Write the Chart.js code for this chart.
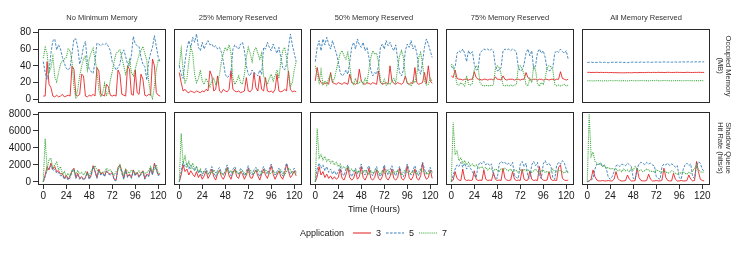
<!DOCTYPE html>
<html>
<head>
<meta charset="utf-8">
<script src="https://cdn.jsdelivr.net/npm/chart.js@4.4.1/dist/chart.umd.min.js"></script>
<style>
  html, body { margin: 0; padding: 0; background: #fff; }
  body { width: 747px; height: 257px; position: relative; overflow: hidden;
         font-family: "Liberation Sans", Arial, sans-serif; color: #1a1a1a; }
  canvas { position: absolute; }
  .strip { position: absolute; top: 13px; width: 128px; height: 10px; line-height: 10px;
           text-align: center; font-size: 7.5px; color: #333; white-space: nowrap; }
  .side { position: absolute; writing-mode: vertical-rl; font-size: 7.5px; line-height: 8px;
          color: #333; text-align: center; white-space: nowrap; transform: translate(-50%, -50%); }
  .lbl { position: absolute; font-size: 9px; line-height: 12px; white-space: nowrap; }
</style>
</head>
<body>
<script>
/* ── data ── */
const HOURS = [0,2,4,6,8,10,12,14,16,18,20,22,24,26,28,30,32,34,36,38,40,42,44,46,48,50,52,54,56,58,
  60,62,64,66,68,70,72,74,76,78,80,82,84,86,88,90,92,94,96,98,100,102,104,106,108,110,112,114,116,118,120,122];

const PANEL_TITLES = ['No Minimum Memory', '25% Memory Reserved', '50% Memory Reserved',
                      '75% Memory Reserved', 'All Memory Reserved'];
const APPS = ['3', '5', '7'];
const X_TICKS = [0, 24, 48, 72, 96, 120];
const MEM_TICKS = [0, 20, 40, 60, 80];
const HIT_TICKS = [0, 2000, 4000, 6000, 8000];

// Occupied memory (MB)
const MEM_NONE_3 = [4,4,45,18,14,4,3,5,3,4, 6,3,4,5,4,40,36,5,4,6, 30,28,4,3,5,4,6,4,38,34,
  6,5,4,18,15,5,4,5,4,35, 30,6,5,4,40,36,6,5,35,8, 6,30,24,5,4,6,5,48,40,8, 5,4];
const MEM_NONE_5 = [45,32,24,33,55,70,72,59,65,60, 50,43,37,35,38,55,72,72,62,42, 50,63,69,45,36,33,31,45,67,66,
  64,66,65,67,63,58,45,40,35,38, 42,55,59,51,42,40,53,75,66,64, 63,50,42,39,23,45,55,62,76,63, 50,45];
const MEM_NONE_7 = [49,62,55,32,38,51,27,21,32,42, 46,48,50,60,58,45,15,1,12,28, 39,48,52,35,48,56,61,48,35,11,
  3,8,19,5,8,23,33,45,55,57, 59,50,40,30,38,47,32,28,36,45, 53,58,63,55,47,22,6,1,16,35, 47,45];

const MEM_R25_3 = [32,20,10,12,9,8,10,9,8,10, 9,8,10,9,12,10,34,28,10,12, 28,10,8,12,10,9,12,34,12,10,
  9,10,8,9,10,26,10,9,12,32, 14,10,28,12,10,26,10,9,10,8, 12,30,10,9,10,12,10,34,12,9, 10,9];
const MEM_R25_5 = [40,30,25,45,60,70,62,74,68,78, 62,58,68,60,66,70,65,66,62,64, 60,62,56,45,30,26,28,32,60,65,
  62,60,66,68,58,40,30,28,35,32, 30,28,35,30,62,60,68,62,58,66, 60,55,62,50,38,35,42,62,78,65, 55,45];
const MEM_R25_7 = [40,60,35,20,25,45,62,55,30,20, 25,35,22,18,25,20,15,22,25,18, 20,30,45,55,62,58,65,55,25,18,
  22,28,20,18,30,50,62,55,45,58, 62,55,48,55,28,22,18,25,30,22, 28,35,25,45,58,62,50,30,15,20, 35,45];

const MEM_R50_3 = [22,38,25,20,18,19,20,18,32,20, 19,18,20,19,18,20,19,18,30,20, 19,18,20,36,22,19,18,20,19,18,
  20,19,18,34,20,18,19,20,18,40, 22,19,18,20,19,18,20,28,19,18, 20,19,38,20,18,19,20,32,19,40, 22,19];
const MEM_R50_5 = [45,62,70,58,72,65,74,66,60,70, 62,55,45,32,28,30,35,30,45,62, 68,60,72,65,62,68,58,62,50,35,
  28,32,30,40,62,66,60,70,64,68, 62,58,65,48,32,28,35,58,66,62, 70,60,64,55,35,30,45,62,72,66, 58,50];
const MEM_R50_7 = [40,30,20,35,18,22,17,25,30,20, 25,35,45,55,58,52,48,56,40,22, 18,25,18,20,22,18,25,20,35,50,
  58,54,55,45,22,18,24,17,20,18, 22,25,20,38,52,58,50,28,20,18, 16,22,20,30,50,56,42,22,17,18, 25,22];

const MEM_R75_3 = [28,26,35,25,24,24,23,24,24,23, 24,24,33,26,24,24,23,24,24,23, 24,24,23,27,24,24,23,28,24,23,
  24,24,24,23,24,24,23,24,24,32, 26,24,23,24,24,23,24,24,23,24, 24,23,24,24,23,24,24,33,25,24, 23,24];
const MEM_R75_5 = [40,36,38,55,58,56,60,55,45,58, 54,57,42,35,36,55,58,60,59,60, 58,60,57,40,34,35,38,58,60,59,
  60,58,60,59,56,38,34,35,42,55, 60,52,58,36,40,56,60,55,58,50, 36,34,35,38,55,58,56,60,57,55, 58,48];
const MEM_R75_7 = [42,40,30,18,17,20,18,16,28,18, 17,19,35,40,38,20,17,16,17,16, 17,16,18,36,40,38,30,17,16,17,
  16,17,16,17,18,38,40,36,30,18, 16,25,20,40,35,18,16,20,18,25, 38,40,39,35,18,16,17,16,17,18, 16,17];

const MEM_ALL_3 = [32.2,32.3,32,32.2,32.1,32.3,32,32.2,32.1,32, 32.2,31.9,32.1,32,31.8,31.9,31.7,31.8,31.6,31.8,
  31.7,31.9,31.8,31.7,31.9,32,31.8,32,32.1,31.9, 32,32.1,32.2,32,32.1,32.2,32,32.3,32.1,32.2,
  32,32.1,32.3,32.2,32,32.1,32.2,32.3,32.1,32.2, 32,32.1,32.3,32.2,32.1,32,32.2,32.1,32.3,32.2, 32.1,32.2];
const MEM_ALL_5 = [44,44.2,44.5,44,44.1,44,44.6,44.2,44,44.3, 44,43.7,44,44.2,44.4,44.1,44.6,44.2,44.3,44,
  44.1,43.8,44.2,44.3,44.5,44.2,44.4,44.1,44.6,44.3, 44.2,44.4,44.5,44,44.3,44.5,44.4,44.6,44.3,44.5,
  44.7,44.4,44.5,44.6,44.3,44.5,44.7,44.2,44.5,44.6, 44.8,44.5,44.6,44.9,44.5,44.7,44.6,44.8,44.5,44.9, 44.7,44.8];
const MEM_ALL_7 = [22.3,22.1,22.2,22,22.3,22.1,22.4,22.2,22,22.3, 22.1,22.2,22.4,22.3,22.1,22.5,22.2,22.3,22.1,22.4,
  22.2,22,22.3,22.6,22.2,22.4,22.1,22.3,22.5,22.2, 22.3,22.4,22.1,22.2,22.6,22.3,22.8,22.4,22.2,22.3,
  22.5,22.2,22.4,22.3,22.1,22.2,22.4,22.3,22.6,22.2, 22.3,22.1,22.5,22.2,22.4,22.3,22.2,22.4,22.3,22.5, 22.2,22.3];

// Shadow queue hit rate (hits/s)
const HIT_NONE_3 = [0,800,1800,1400,2200,1500,1800,1200,1300,900, 1000,400,800,300,700,1300,1600,500,1000,400,
  600,300,500,1200,400,800,1900,1300,500,1500, 900,1100,700,1300,1000,900,1100,300,200,1700,
  2000,1200,400,1500,600,900,500,1400,800,1100, 600,1000,1300,400,900,700,1600,900,2200,1500, 800,1000];
const HIT_NONE_5 = [0,600,1400,1600,1900,1300,1500,1000,1100,700, 800,300,600,200,500,1100,1500,400,800,300,
  500,200,400,1100,300,700,1800,1200,400,1300, 800,1000,600,1200,900,800,1000,200,100,1500,
  1800,1000,300,1300,500,800,400,1300,700,1000, 500,900,1200,300,800,600,1500,800,2000,1400, 700,900];
const HIT_NONE_7 = [0,5100,1500,2600,2800,1600,2000,2300,1400,1800, 900,1200,700,1000,600,1400,1200,900,1300,1000,
  1100,800,1200,900,700,1300,1500,1900,1400,1200, 1000,1200,1100,1600,1300,1400,1100,800,1200,1400,
  2000,1300,800,1500,1200,1000,1400,1200,1000,1100, 1300,900,1200,1000,1100,1300,1800,1200,1500,2000, 1000,900];

const HIT_R25_3 = [0,800,2000,1200,1500,800,1300,900,600,1200, 500,900,300,700,1300,400,800,1500,600,200,
  900,1400,600,300,800,1700,700,300,1100,1500, 600,400,1200,900,300,800,1600,500,400,1000,
  1400,700,200,900,1500,800,400,1100,1900,900, 300,800,1300,600,300,1000,2100,1200,500,800, 1300,700];
const HIT_R25_5 = [0,1200,2400,1800,2200,1500,2000,1600,1300,1800, 1000,1400,700,1200,1600,900,1200,1800,1000,600,
  1400,1700,1100,800,1300,2000,1200,700,1500,1800, 1100,900,1600,1300,700,1200,1900,1000,800,1400,
  1700,1100,600,1300,1800,1200,900,1500,2100,1300, 800,1200,1600,1000,700,1400,2200,1500,900,1200, 1600,1100];
const HIT_R25_7 = [0,5700,2200,3000,1800,2400,1500,2200,1400,1800, 1200,1500,1000,1300,1100,900,1200,1000,1400,1100,
  900,1300,1000,800,1200,1500,1100,1300,1000,1400, 1200,900,1100,1300,1000,800,1200,1400,1100,900,
  1300,1500,1200,1000,1100,1400,1200,900,1000,1300, 1100,900,1200,1400,1000,800,1200,1600,1400,1000, 1100,900];

const HIT_R50_3 = [0,600,1800,800,1200,500,900,400,700,300, 600,300,500,1500,400,200,800,1700,500,200,
  400,1200,300,600,1800,500,200,700,1600,400, 200,500,1400,400,200,600,1700,500,200,600,
  1500,400,200,500,1600,400,200,600,1900,500, 200,600,1500,400,200,700,2200,800,300,500, 1400,400];
const HIT_R50_5 = [0,1500,2200,1600,2000,1300,1800,1100,1500,900, 1300,800,1200,1800,1000,700,1500,2000,1200,600,
  1100,1600,900,1400,2100,1200,800,1500,1900,1100, 700,1300,1800,1000,600,1200,2000,1300,800,1400,
  1900,1100,700,1300,1800,1000,600,1200,2100,1300, 800,1400,1900,1100,700,1300,2300,1500,900,1200, 1700,1100];
const HIT_R50_7 = [0,6300,2800,3200,2600,3000,2400,2700,2200,2500, 2000,2300,1800,2100,1600,1800,1500,1700,1300,1500,
  1200,1400,1100,1300,1000,1200,1400,1100,900,1300, 1000,1200,1500,1100,900,1300,1000,1200,1400,1000,
  900,1200,1100,1300,1000,800,1200,1400,1100,900, 1000,1300,1100,900,1200,1500,1300,1000,1100,900, 1200,1000];

const HIT_R75_3 = [0,200,1200,400,200,150,1500,300,150,200, 150,200,1300,300,150,200,150,1400,300,150,
  200,150,1100,300,150,200,150,1600,400,200, 150,200,1200,300,150,200,150,1500,300,150,
  200,1300,300,150,200,150,1800,400,200,150, 200,1200,300,150,200,150,1700,2000,400,200, 150,200];
const HIT_R75_5 = [0,800,1500,2000,1800,2300,1700,2200,1500,1900, 1600,1200,700,500,1900,2300,2100,2400,2000,2200,
  1900,2100,800,500,400,2100,2400,2200,2300,2000, 2200,1900,2300,700,500,400,2100,2400,1800,2200,
  600,400,2000,2400,1900,2300,600,400,2100,2500, 2000,2200,1800,500,300,1900,2300,2100,2500,2200, 1500,1000];
const HIT_R75_7 = [0,7000,3200,3600,2500,2800,2200,2500,2000,2300, 1900,2100,1800,2000,1700,1600,1800,1500,1700,1400,
  1600,1500,1300,1500,1400,1200,1500,1300,1600,1400, 1300,1500,1200,1400,1300,1100,1400,1200,1500,1300,
  1400,1200,1100,1300,1500,1200,1000,1300,1400,1100, 1200,1000,1300,1500,1200,1100,1400,1300,1200,1000, 1300,1100];

const HIT_ALL_3 = [0,100,300,1400,600,200,100,100,150,100, 100,150,100,100,300,1200,400,150,100,100,
  150,800,300,100,100,150,1600,500,150,100, 100,150,900,300,100,100,150,100,100,200,
  1600,500,150,100,100,1000,300,100,100,150, 100,100,150,800,300,100,150,2400,1200,300, 150,100];
const HIT_ALL_5 = [0,100,200,400,1500,2100,2000,2300,1800,2000, 1500,500,300,600,1200,1900,2000,1800,2100,2000,
  1900,2200,2000,1800,400,300,1500,2100,2300,2200, 2000,2300,2100,2200,2000,1900,600,400,300,1800,
  2100,2000,2200,1900,2100,2000,1700,1900,500,300, 1400,2000,2200,1900,2100,600,400,1800,2400,2200, 1500,1200];
const HIT_ALL_7 = [0,8000,3000,3500,2400,2200,2000,2100,1800,1900, 1600,1700,1500,1600,1400,1500,1300,1400,1200,1500,
  1300,1400,1200,1600,1400,1800,1500,1300,1400,1200, 1300,1500,1400,1200,1300,1100,1400,1300,1200,1100,
  1300,1200,1000,1100,1300,1200,1000,900,1100,1000, 1200,1000,900,1100,1000,1300,1600,2000,1400,1200, 1100,1200];

const MEM_PANELS = [
  [MEM_NONE_3, MEM_NONE_5, MEM_NONE_7], [MEM_R25_3, MEM_R25_5, MEM_R25_7], [MEM_R50_3, MEM_R50_5, MEM_R50_7],
  [MEM_R75_3, MEM_R75_5, MEM_R75_7], [MEM_ALL_3, MEM_ALL_5, MEM_ALL_7]
];
const HIT_PANELS = [
  [HIT_NONE_3, HIT_NONE_5, HIT_NONE_7], [HIT_R25_3, HIT_R25_5, HIT_R25_7], [HIT_R50_3, HIT_R50_5, HIT_R50_7],
  [HIT_R75_3, HIT_R75_5, HIT_R75_7], [HIT_ALL_3, HIT_ALL_5, HIT_ALL_7]
];

/* ── layout & style ── */
const COL_LEFT = [38, 174, 310, 446, 582];
const ROW_TOP = [29, 112];
const PANEL_W = 128;
const PANEL_H = [74, 73];
const YAX_W = 38, XAX_H = 22, PAD = 8;
const X_RANGE = [-5.5, 128.1];
const Y_RANGE = [[-4.3, 83.9], [-380, 8240]];
const LINE_STYLE = {
  '3': { color: '#E41A1C', dash: [], width: 0.85 },
  '5': { color: '#377EB8', dash: [2.6, 1.4], width: 0.9 },
  '7': { color: '#4DAF4A', dash: [1.2, 0.9], width: 1.05 }
};
const TICK_FONT = { family: "'Liberation Sans', Arial, sans-serif", size: 10 };

const framePlugin = {
  id: 'frame',
  afterDatasetsDraw(chart) {
    const a = chart.chartArea, c = chart.ctx;
    c.save();
    c.strokeStyle = '#2a2a2a';
    c.lineWidth = 1;
    c.strokeRect(Math.round(a.left) + 0.5, Math.round(a.top) + 0.5,
                 Math.round(a.right - a.left) - 1, Math.round(a.bottom - a.top) - 1);
    c.restore();
  }
};

function zeroPad(s) { s.paddingLeft = 0; s.paddingRight = 0; s.paddingTop = 0; s.paddingBottom = 0; }

function makePanel(col, row, series) {
  const isLeft = col === 0, isBottom = row === 1;
  const w = PANEL_W + (isLeft ? YAX_W : 0) + 2 * PAD;
  const h = PANEL_H[row] + (isBottom ? XAX_H : 0) + 2 * PAD;
  const cv = document.createElement('canvas');
  cv.width = w; cv.height = h;
  cv.style.width = w + 'px'; cv.style.height = h + 'px';
  cv.style.left = (COL_LEFT[col] - (isLeft ? YAX_W : 0) - PAD) + 'px';
  cv.style.top = (ROW_TOP[row] - PAD) + 'px';
  document.body.appendChild(cv);

  // ggplot draws group 3, then 5, then 7 on top; Chart.js puts dataset 0 on top
  const datasets = APPS.map((app, k) => ({
    label: app,
    data: HOURS.map((x, i) => ({ x: x, y: series[k][i] })),
    borderColor: LINE_STYLE[app].color,
    borderDash: LINE_STYLE[app].dash,
    borderWidth: LINE_STYLE[app].width,
    pointRadius: 0,
    tension: 0,
    fill: false
  })).reverse();

  const yTicks = row === 0 ? MEM_TICKS : HIT_TICKS;

  new Chart(cv, {
    type: 'line',
    data: { datasets: datasets },
    options: {
      responsive: false,
      animation: false,
      devicePixelRatio: 1,
      layout: { padding: PAD },
      plugins: { legend: { display: false }, tooltip: { enabled: false } },
      scales: {
        x: {
          type: 'linear', min: X_RANGE[0], max: X_RANGE[1],
          display: isBottom,
          afterBuildTicks: s => { s.ticks = X_TICKS.map(v => ({ value: v })); },
          afterFit: s => { if (isBottom) { s.height = XAX_H; zeroPad(s); } },
          grid: { drawOnChartArea: false, drawTicks: true, tickLength: 4, color: '#333' },
          border: { display: false },
          ticks: { font: TICK_FONT, color: '#1a1a1a', padding: 1, maxRotation: 0, autoSkip: false,
                   callback: v => String(v) }
        },
        y: {
          type: 'linear', min: Y_RANGE[row][0], max: Y_RANGE[row][1],
          display: isLeft,
          afterBuildTicks: s => { s.ticks = yTicks.map(v => ({ value: v })); },
          afterFit: s => { if (isLeft) { s.width = YAX_W; zeroPad(s); } },
          grid: { drawOnChartArea: false, drawTicks: true, tickLength: 5, color: '#333' },
          border: { display: false },
          ticks: { font: TICK_FONT, color: '#1a1a1a', padding: 2, autoSkip: false,
                   callback: v => String(v) }
        }
      }
    },
    plugins: [framePlugin]
  });
}

MEM_PANELS.forEach((s, c) => makePanel(c, 0, s));
HIT_PANELS.forEach((s, c) => makePanel(c, 1, s));

/* ── text: strips, side labels, axis title ── */
PANEL_TITLES.forEach((t, c) => {
  const d = document.createElement('div');
  d.className = 'strip';
  d.style.left = COL_LEFT[c] + 'px';
  d.textContent = t;
  document.body.appendChild(d);
});

function sideLabel(lines, cy) {
  const d = document.createElement('div');
  d.className = 'side';
  d.style.left = '724px';
  d.style.top = cy + 'px';
  d.innerHTML = lines.join('<br>');
  document.body.appendChild(d);
}
sideLabel(['Occupied Memory', '(MB)'], 66);
sideLabel(['Shadow Queue', 'Hit Rate (hits/s)'], 148);

function textAt(txt, left, top, center) {
  const d = document.createElement('div');
  d.className = 'lbl';
  d.style.left = left + 'px';
  d.style.top = top + 'px';
  if (center) d.style.transform = 'translateX(-50%)';
  d.textContent = txt;
  document.body.appendChild(d);
}
textAt('Time (Hours)', 374, 203, true);

/* ── legend ── */
textAt('Application', 300, 227, false);
const KEY_X = [353, 386, 419];
const KEY_TXT_X = [376, 409, 442];
const key = document.createElement('canvas');
key.width = 100; key.height = 10;
key.style.left = '350px'; key.style.top = '228px';
document.body.appendChild(key);
const kc = key.getContext('2d');
APPS.forEach((app, k) => {
  kc.strokeStyle = LINE_STYLE[app].color;
  kc.lineWidth = 1;
  kc.setLineDash(LINE_STYLE[app].dash);
  kc.beginPath();
  kc.moveTo(KEY_X[k] - 350, 5);
  kc.lineTo(KEY_X[k] - 350 + 18, 5);
  kc.stroke();
  textAt(app, KEY_TXT_X[k], 227, false);
});
</script>
</body>
</html>
